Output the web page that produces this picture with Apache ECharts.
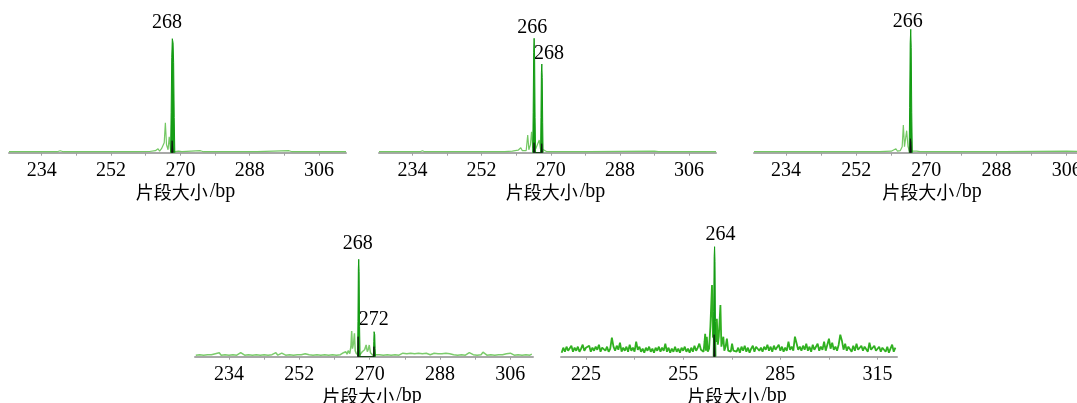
<!DOCTYPE html>
<html><head><meta charset="utf-8">
<script src="https://cdn.jsdelivr.net/npm/echarts@6/dist/echarts.min.js"></script>
<style>html,body{margin:0;padding:0;background:#fff}#c{width:1077px;height:403px}</style>
</head><body><div id="c"></div>
<script>
// ---------- tick values ----------
const ticksA = [234, 243, 252, 261, 270, 279, 288, 297, 306];
const labelsA = [234, 252, 270, 288, 306];
const ticksB = [225, 240, 255, 270, 285, 300, 315];
const labelsB = [225, 255, 285, 315];
const axisTitleCn = '片段大小';
const axisTitleUnit = '/bp';

// ---------- panel 1 ----------
const p1Trace = [[225.5,1],[230,1],[238,1],[238.8,2],[239.6,1],[250,1],[258,1],[262,1.2],[263.5,2],[264.2,4],[264.6,1.5],[265.1,4],[265.5,2],[265.8,10],[266.1,30],[266.4,8],[266.8,3],[267.1,16],[267.4,4],[267.6,1],[268.6,1],[269.5,1.5],[270,3],[270.4,1],[275.2,2],[276,1],[290,1],[298.2,2],[299,1],[313,1]];
const p1Peak = [[267.45,0],[267.6,40],[267.75,95],[267.9,114],[268.0,116],[268.1,110],[268.25,90],[268.4,35],[268.55,0]];
const p1Bin = [[267.7,0],[267.85,12],[268.0,10],[268.1,0]];
const p1Calls = [['268', 268.0, 116]];

// ---------- panel 2 ----------
const p2Trace = [[225.3,1],[236,1],[236.6,2],[237.2,1],[258,1],[260,1.5],[261.5,2.5],[262.2,5],[262.6,2],[263.1,3],[263.6,2],[264.0,17.7],[264.3,3],[264.7,8],[265.0,21],[265.3,5],[266.1,4],[266.5,6],[267.0,12.7],[267.3,4],[268.1,3],[268.5,2],[269,1],[280,1],[297,1.5],[298,1],[313,1]];
const p2Peak = [[265.3,0],[265.42,40],[265.55,100],[265.67,114.4],[265.8,95],[265.92,35],[266.05,0],[267.35,0],[267.45,35],[267.56,80],[267.67,88.7],[267.78,75],[267.9,30],[268.0,0]];
const p2Bin = [[265.5,0],[265.65,10],[265.8,0],[267.5,0],[267.65,9],[267.8,0]];
const p2Calls = [['266', 265.67, 114.4], ['268', 267.67, 88.7]];

// ---------- panel 3 ----------
const p3Trace = [[225.8,1],[240,1],[258,1],[261,1.5],[262.2,4],[262.6,1.5],[263.3,2],[263.8,6],[264.1,27.7],[264.4,6],[264.7,8],[264.95,22],[265.3,6],[265.6,2],[266.5,1.5],[267.5,1.5],[268.0,3.5],[268.4,1],[290,1],[306,1.5],[313,1]];
const p3Peak = [[265.6,0],[265.72,45],[265.86,110],[266.0,123.4],[266.12,105],[266.26,40],[266.4,0]];
const p3Bin = [[265.75,0],[265.9,14],[266.05,10],[266.15,0]];
const p3Calls = [['266', 266.0, 123.4]];

// ---------- panel 4 ----------
const p4NoiseLeftStart = 225.5;   // sampled every 0.5 bp
const p4NoiseLeft = [1.5,3,2,3.5,1.5,3,2,3.5,2,1.5,3,2,4,1.5,3,2,3,1.5,3.5,2,
  3,1.5,3,4,2,1.5,3.5,2,3,1.5,3.5,2,3,1.5,3,2,3.5,1.5,3,2,
  3,4,1.5,2.5,3.5,2,1.5,3,2,3.5,1.5,3,2,3.5,2,1.5,3,4.5,2,3,
  1.5,3.5,2,3,1.5,3,2,3.5,1.5,3,2,3.5,1.5,3,2,3];
const p4Cluster = [[263.3,4],[263.6,2],[263.9,5],[264.2,2.5],[264.5,6],[264.9,3],[265.2,10],[265.4,25.7],[265.6,8],[265.9,14],[266.1,23.4],[266.3,6],[266.6,3],[266.9,2],[267.0,1],[267.5,2],[267.8,3],[268.1,5],[268.4,3],[268.7,7],[269.1,11.7],[269.4,5],[269.7,8],[269.9,11.7],[270.2,4],[270.5,2],[270.8,1.5],[271.6,2],[272,3],[272.5,2],[273,2.5]];
const p4NoiseRightStart = 273.5;
const p4NoiseRight = [1.5,3,2,3.5,1.5,3,2,4,1.5,2.5,3.5,2,3,1.5,3.5,2,3,1.5,3.5,2,
  3,1.5,3.5,4,2,1.5,3.5,2,3,1.5,3,2,3.5,1.5,3,4,2,3,1.5,3.5,
  2,3.5,1.5,3,4,4.5,2,3,1.5,3.5,2,4.5,3,1.5,3,2,3.5,1.5,3,2,
  3.5,2,1.5,3,2,3.5,4,1.5,3,2,3.5,1.5,3,2,3.5,1.5,2.5];
const p4Peak = [[266.9,0],[267.0,35],[267.1,88],[267.2,97.4],[267.3,85],[267.42,30],[267.55,0],[270.95,0],[271.05,15],[271.13,25],[271.2,25.7],[271.3,22],[271.4,8],[271.5,0]];
const p4Bin = [[266.95,0],[267.05,20],[267.15,0],[271.0,0],[271.1,10],[271.2,0]];
const p4Calls = [['268', 267.2, 97.4], ['272', 271.2, 25.7]];

// ---------- panel 5 ----------
const p5NoiseLeftStart = 217.5;
const p5NoiseLeft = [4,9,5,10,6,8,11,5,9,6,
  10,5,8,12,6,9,7,11,5,9,
  6,10,7,12,5,9,11,6,10,5,
  8,19,10,6,11,7,14,5,9,6,
  10,5,12,6,9,5,15,7,10,5,
  8,4,9,6,10,5,8,4,9,6,
  10,5,9,6,13,5,9,4,8,5,
  10,5,8,4,9,6,10,5,8,4,
  9,5,11,6,9,13,7,5];
const p5Cluster = [[261.3,5],[261.6,15],[261.8,23],[262.0,6],[262.3,20],[262.6,5],[263.0,8],[263.4,30],[263.9,71.7],[264.2,20],[265.2,15],[265.4,38],[265.7,12],[266.0,20],[266.5,51.7],[266.8,10],[267.1,8],[267.4,20],[267.7,6],[268.1,10],[268.5,18],[268.9,6],[269.3,8],[269.7,5],[270.1,13],[270.5,6],[271.0,8]];
const p5NoiseRightStart = 271.5;
const p5NoiseRight = [5,9,4,10,6,11,5,9,4,8,
  11,5,10,12,6,9,5,10,7,12,
  6,10,5,11,7,9,12,6,10,5,
  9,6,15,7,10,6,20,22,7,10,
  6,11,7,13,6,10,5,12,7,9,
  13,6,10,7,15,6,12,18,8,14,
  7,10,6,12,22,16,7,13,6,10,
  12,5,11,6,13,7,5,11,6,10,
  12,5,14,7,5,11,6,4,10,5,
  9,11,5,10,4,8,12,5,9];
const p5Peak = [[264.3,0],[264.42,45],[264.57,100],[264.7,110],[264.83,95],[264.96,35],[265.1,0]];
const p5Bin = [[264.45,0],[264.55,22],[264.75,20],[264.85,0]];
const p5Calls = [['264', 264.7, 110]];

// ---------- build ----------
function sampled(start, vals) { return vals.map((v, i) => [start + i * 0.5, v]); }
function joinTrace(left, ls, cluster, right, rs) {
  return sampled(ls, left).concat(cluster, sampled(rs, right)).sort((a, b) => a[0] - b[0]);
}
const p4Trace = joinTrace(p4NoiseLeft, p4NoiseLeftStart, p4Cluster, p4NoiseRight, p4NoiseRightStart);
const p5Trace = joinTrace(p5NoiseLeft, p5NoiseLeftStart, p5Cluster, p5NoiseRight, p5NoiseRightStart);

const panels = [
  {grid:{left:9, top:22.7, width:337, height:130}, min:225.5, max:313, ticks:ticksA, labels:labelsA,
   trace:p1Trace, peak:p1Peak, bin:p1Bin, calls:p1Calls, offs:[[-5.6,-13.7]], traceColor:'#74c864', tw:1.2},
  {grid:{left:379, top:22.7, width:337, height:130}, min:225.3, max:313, ticks:ticksA, labels:labelsA,
   trace:p2Trace, peak:p2Peak, bin:p2Bin, calls:p2Calls, offs:[[-2,-10.5],[7.3,-9.8]], traceColor:'#74c864', tw:1.2},
  {grid:{left:754, top:22.7, width:340, height:130}, min:225.8, max:313, ticks:ticksA, labels:labelsA,
   trace:p3Trace, peak:p3Peak, bin:p3Bin, calls:p3Calls, offs:[[-3,-7.6]], traceColor:'#74c864', tw:1.2},
  {grid:{left:195, top:226.7, width:338, height:130}, min:225.3, max:311.8, ticks:ticksA, labels:labelsA,
   trace:p4Trace, peak:p4Peak, bin:p4Bin, calls:p4Calls, offs:[[-1,-15.3],[-0.5,-11.3]], traceColor:'#7ccc6c', tw:1.5},
  {grid:{left:561, top:226.7, width:336, height:130}, min:217.3, max:321, ticks:ticksB, labels:labelsB,
   trace:p5Trace, peak:p5Peak, bin:p5Bin, calls:p5Calls, offs:[[6,-11.7]], traceColor:'#30b020', tw:1.8}
];

const serif = "'Liberation Serif', 'Times New Roman', serif";
const option = {animation:false, backgroundColor:'#fff', grid:[], xAxis:[], yAxis:[], series:[]};
panels.forEach((p, i) => {
  option.grid.push(Object.assign({outerBoundsMode:'none', containLabel:false}, p.grid));
  option.xAxis.push({
    type:'value', gridIndex:i, min:p.min, max:p.max, position:'bottom',
    name:'{cn|' + axisTitleCn + '}{en|' + axisTitleUnit + '}', nameLocation:'middle', nameGap:29,
    nameTextStyle:{fontSize:19, color:'#000', fontFamily:serif, padding:[0,0,0,16],
      rich:{cn:{fontFamily:"'Noto Sans CJK SC'", fontSize:18, color:'#000'},
            en:{fontFamily:serif, fontSize:20, color:'#000', padding:[0,0,0,2]}}},
    axisLine:{show:true, onZero:false, lineStyle:{color:'#a8a8a8', width:2}},
    axisTick:{show:true, length:3, customValues:p.ticks, lineStyle:{color:'#a0a0a0', width:1}},
    axisLabel:{show:true, customValues:p.labels, margin:8, fontSize:20, color:'#000', fontFamily:serif},
    splitLine:{show:false}
  });
  option.yAxis.push({type:'value', gridIndex:i, min:0, max:130, show:false, splitLine:{show:false}});
  option.series.push({
    type:'line', xAxisIndex:i, yAxisIndex:i, data:p.trace, symbol:'none', z:2,
    lineStyle:{color:p.traceColor, width:p.tw}
  });
  option.series.push({
    type:'line', xAxisIndex:i, yAxisIndex:i, data:p.peak, symbol:'none', z:3,
    lineStyle:{color:'#139b13', width:1}, areaStyle:{color:'#169e16', opacity:1}
  });
  option.series.push({
    type:'line', xAxisIndex:i, yAxisIndex:i, data:p.bin, symbol:'none', z:4,
    lineStyle:{color:'#111', width:0.8}, areaStyle:{color:'#111', opacity:1}
  });
  option.series.push({
    type:'scatter', xAxisIndex:i, yAxisIndex:i, z:1, symbolSize:0.1, itemStyle:{color:'#ffffff', opacity:1},
    data:p.calls.map((c, k) => ({name:c[0], value:[c[1], c[2]],
      label:{offset:p.offs[k]}})),
    label:{show:true, position:'inside', formatter:d => d.name, fontSize:20, color:'#000000',
      textBorderWidth:0, opacity:1, fontFamily:serif},
    clip:false, silent:true
  });
});
const chart = echarts.init(document.getElementById('c'), null, {renderer:'canvas', width:1077, height:403});
chart.setOption(option);
</script></body></html>
